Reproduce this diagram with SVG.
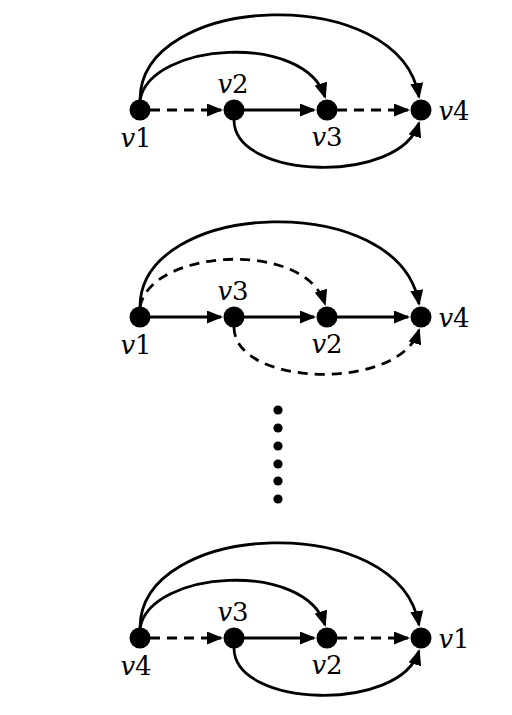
<svg xmlns="http://www.w3.org/2000/svg" width="512" height="715" viewBox="0 0 512 715">
<style>
.edge{fill:none;stroke:#000;stroke-width:2.8;marker-end:url(#ah)}
.dash{stroke-dasharray:10 7}
.node{fill:#000}
.lbl{font-family:"DejaVu Serif","Liberation Serif",serif;font-size:26px;fill:#000;text-anchor:middle}
.v{font-style:italic}
.dot{fill:#000}
</style>
<defs>
<marker id="ah" viewBox="0 0 16 13" refX="14" refY="6.5" markerWidth="16" markerHeight="13" markerUnits="userSpaceOnUse" orient="auto">
<path d="M0,0 L16,6.5 L0,13 z" fill="#000"/>
</marker>
</defs>
<rect width="512" height="715" fill="#fff"/>
<g id="connectors">
<!-- row 1 -->
<path class="edge" d="M140,100 C140,-8 400,-18 419,97"/>
<path class="edge" d="M140,100 C150,42 305,32 325,97"/>
<path class="edge" d="M234,120 C234,180 400,185 419,123"/>
<path class="edge dash" d="M150,110 L221,110"/>
<path class="edge" d="M244,110 L314,110"/>
<path class="edge dash" d="M337,110 L408,110"/>
<!-- row 2 -->
<path class="edge" d="M140,307 C140,199 400,189 419,304"/>
<path class="edge dash" d="M140,307 C150,249 305,239 325,304"/>
<path class="edge dash" d="M234,327 C234,387 400,392 419,330"/>
<path class="edge" d="M150,317 L221,317"/>
<path class="edge" d="M244,317 L314,317"/>
<path class="edge" d="M337,317 L408,317"/>
<!-- row 3 -->
<path class="edge" d="M140,628 C140,520 400,510 419,625"/>
<path class="edge" d="M140,628 C150,570 305,560 325,625"/>
<path class="edge" d="M234,648 C234,708 400,713 419,651"/>
<path class="edge dash" d="M150,638 L221,638"/>
<path class="edge" d="M244,638 L314,638"/>
<path class="edge dash" d="M337,638 L408,638"/>
</g>
<!-- row 1 nodes -->
<g id="r1-v1"><circle class="node" cx="140" cy="110" r="10.5"/><text class="lbl" x="136" y="147"><tspan class="v">v</tspan>1</text></g>
<g id="r1-v2"><circle class="node" cx="234" cy="110" r="10.5"/><text class="lbl" x="233" y="93"><tspan class="v">v</tspan>2</text></g>
<g id="r1-v3"><circle class="node" cx="327" cy="110" r="10.5"/><text class="lbl" x="327" y="146"><tspan class="v">v</tspan>3</text></g>
<g id="r1-v4"><circle class="node" cx="421" cy="110" r="10.5"/><text class="lbl" x="454" y="120"><tspan class="v">v</tspan>4</text></g>
<!-- row 2 nodes -->
<g id="r2-v1"><circle class="node" cx="140" cy="317" r="10.5"/><text class="lbl" x="136" y="354"><tspan class="v">v</tspan>1</text></g>
<g id="r2-v3"><circle class="node" cx="234" cy="317" r="10.5"/><text class="lbl" x="233" y="300"><tspan class="v">v</tspan>3</text></g>
<g id="r2-v2"><circle class="node" cx="327" cy="317" r="10.5"/><text class="lbl" x="327" y="353"><tspan class="v">v</tspan>2</text></g>
<g id="r2-v4"><circle class="node" cx="421" cy="317" r="10.5"/><text class="lbl" x="454" y="327"><tspan class="v">v</tspan>4</text></g>
<!-- ellipsis -->
<g id="ellipsis">
<circle class="dot" cx="278" cy="410" r="4.6"/>
<circle class="dot" cx="278" cy="428" r="4.6"/>
<circle class="dot" cx="278" cy="446" r="4.6"/>
<circle class="dot" cx="278" cy="464" r="4.6"/>
<circle class="dot" cx="278" cy="481" r="4.6"/>
<circle class="dot" cx="278" cy="499" r="4.6"/>
</g>
<!-- row 3 nodes -->
<g id="r3-v4"><circle class="node" cx="140" cy="638" r="10.5"/><text class="lbl" x="136" y="675"><tspan class="v">v</tspan>4</text></g>
<g id="r3-v3"><circle class="node" cx="234" cy="638" r="10.5"/><text class="lbl" x="233" y="621"><tspan class="v">v</tspan>3</text></g>
<g id="r3-v2"><circle class="node" cx="327" cy="638" r="10.5"/><text class="lbl" x="327" y="674"><tspan class="v">v</tspan>2</text></g>
<g id="r3-v1"><circle class="node" cx="421" cy="638" r="10.5"/><text class="lbl" x="454" y="648"><tspan class="v">v</tspan>1</text></g>
</svg>
